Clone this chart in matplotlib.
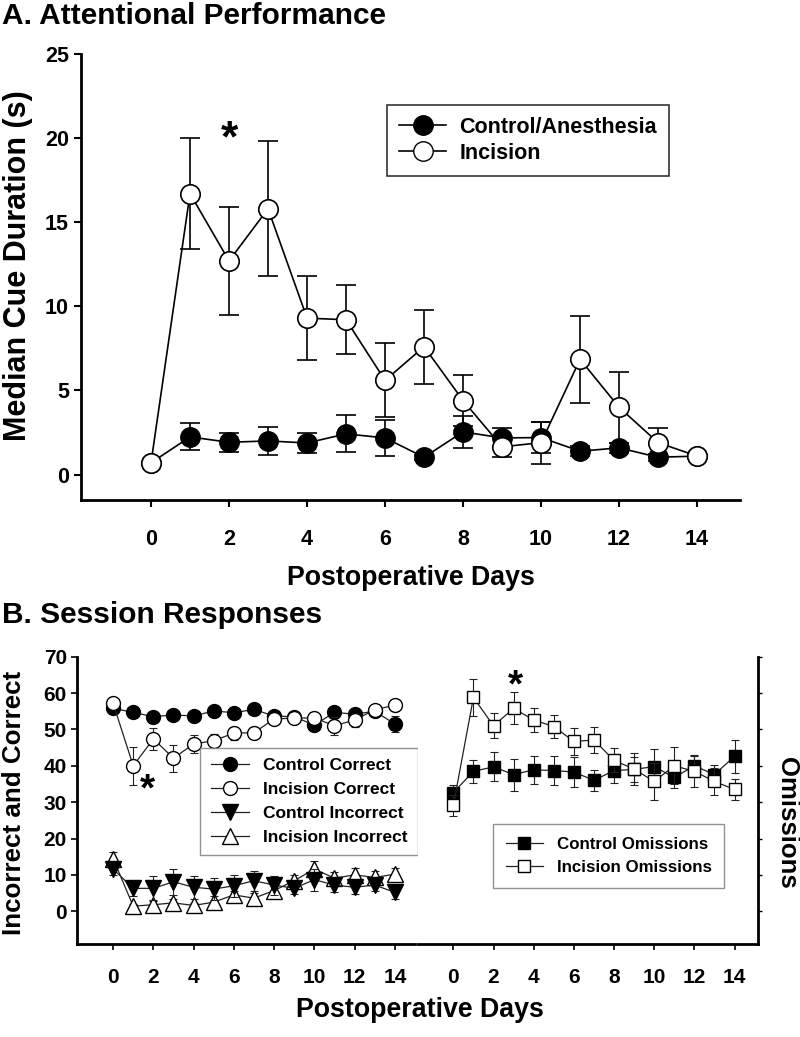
import numpy as np
import matplotlib
matplotlib.use("Agg")
import matplotlib.pyplot as plt
from matplotlib.lines import Line2D

plt.rcParams['font.family'] = ['Liberation Sans', 'DejaVu Sans']
plt.rcParams['font.weight'] = 'bold'
plt.rcParams['axes.labelweight'] = 'bold'

# ---- data, panel A (median cue duration, s) ----
days = np.arange(15)
ctrl_cue = [0.7, 2.24, 1.92, 2.0, 1.88, 2.42, 2.18, 1.03, 2.54, 2.18, 2.2, 1.39, 1.59, 1.03, 1.1]
ctrl_cue_err = [0, 0.8, 0.55, 0.85, 0.62, 1.1, 1.06, 0.15, 0.95, 0.6, 0.9, 0.3, 0.3, 0.2, 0.1]
inc_cue = [0.7, 16.7, 12.7, 15.8, 9.3, 9.2, 5.6, 7.6, 4.4, 1.65, 1.9, 6.85, 4.0, 1.9, 1.1]
inc_cue_err = [0, 3.3, 3.2, 4.0, 2.5, 2.05, 2.2, 2.2, 1.5, 0.6, 1.25, 2.6, 2.1, 0.85, 0]

# ---- data, panel B (session responses) ----
ctrl_corr = [55.8, 54.7, 53.5, 54.0, 53.7, 55.1, 54.6, 55.5, 53.7, 53.5, 51.2, 54.7, 54.2, 55.0, 51.5]
ctrl_corr_err = [0.8, 1, 1, 1, 1, 1, 1, 1, 1, 1, 1.5, 1, 1, 1, 2.1]
inc_corr = [57.2, 40.0, 47.4, 42.1, 46.0, 46.9, 49.0, 49.1, 52.9, 53.1, 53.2, 51.0, 52.6, 55.4, 56.7]
inc_corr_err = [1, 5.2, 3.0, 3.7, 2.6, 1.8, 1.8, 1.5, 1.2, 1.2, 1.5, 2.5, 1.8, 1, 1.5]
ctrl_incorr = [11.6, 6.3, 6.3, 8.1, 6.6, 6.1, 7.0, 8.4, 7.2, 6.3, 8.7, 7.2, 6.6, 7.2, 5.2]
ctrl_incorr_err = [1.5, 2.1, 3.3, 3.5, 3.2, 3.1, 3.1, 2.7, 2.6, 1.5, 3.0, 2.0, 1.8, 1.5, 1.8]
inc_incorr = [14.5, 1.4, 1.8, 2.3, 1.6, 2.5, 4.5, 3.6, 5.7, 8.4, 11.6, 9.1, 10.0, 9.3, 10.2]
inc_incorr_err = [1.7, 0.5, 1.0, 1.0, 0.7, 1.6, 1.2, 1.5, 2.1, 1.5, 2.3, 1.8, 1.9, 1.7, 1.7]
ctrl_omit = [32.6, 38.5, 39.7, 37.6, 38.9, 38.7, 38.3, 36.0, 38.7, 39.0, 39.8, 36.8, 40.0, 37.6, 42.6]
ctrl_omit_err = [2, 3.2, 4, 4.4, 3.9, 4, 4, 2.9, 3.3, 3.5, 4.9, 3, 3, 2.5, 4.5]
inc_omit = [29.1, 58.8, 51.0, 55.8, 52.6, 50.8, 46.7, 47.1, 41.5, 39.1, 35.7, 40.0, 38.5, 35.7, 33.5]
inc_omit_err = [2.9, 5.2, 3.4, 4.4, 3.3, 3.2, 3.6, 3.6, 3.3, 4.3, 5, 5.1, 4.3, 3.7, 3.0]

fig = plt.figure(figsize=(8, 10.37), dpi=100)

# ================= Panel A =================
axA = fig.add_axes([0.101, 0.518, 0.824, 0.430])
axA.errorbar(days, ctrl_cue, yerr=ctrl_cue_err, fmt='o-', color='black', mfc='black', mec='black',
             ms=14, lw=1.2, elinewidth=1.2, capsize=7, capthick=1.2, zorder=2)
axA.errorbar(days, inc_cue, yerr=inc_cue_err, fmt='o-', color='black', mfc='white', mec='black',
             ms=14, lw=1.2, mew=1.2, elinewidth=1.2, capsize=7, capthick=1.2, zorder=3)
axA.set_xlim(-1.8, 15.1)
axA.set_ylim(-1.5, 25)
axA.set_xticks(np.arange(0, 15, 2))
axA.set_yticks(np.arange(0, 26, 5))
for s in ['top', 'right']:
    axA.spines[s].set_visible(False)
for s in ['left', 'bottom']:
    axA.spines[s].set_linewidth(2)
axA.tick_params(direction='out', length=5, width=1.5, labelsize=15.5)
axA.tick_params(axis='x', pad=16)
axA.text(2, 19.9, '*', fontsize=32, ha='center', va='center')
hA = [Line2D([], [], color='black', lw=1.2, marker='o', ms=14, mfc='black', mec='black'),
      Line2D([], [], color='black', lw=1.2, marker='o', ms=14, mfc='white', mec='black')]
legA = axA.legend(hA, ['Control/Anesthesia', 'Incision'], loc='upper right',
                  bbox_to_anchor=(0.892, 0.886), borderaxespad=0, fontsize=15.5, frameon=True,
                  fancybox=False, edgecolor='black', handlelength=2.2, borderpad=0.55,
                  labelspacing=0.25, handletextpad=0.6)
legA.get_frame().set_linewidth(1.2)

fig.text(0.003, 0.985, 'A. Attentional Performance', fontsize=21.5, ha='left', va='center')
fig.text(18 / 800, 1 - 266 / 1037, 'Median Cue Duration (s)', fontsize=22, rotation=90,
         ha='center', va='center')
fig.text(411 / 800, 1 - 578 / 1037, 'Postoperative Days', fontsize=19.3, ha='center', va='center')
fig.text(0.003, 0.407, 'B. Session Responses', fontsize=21.5, ha='left', va='center')

# ================= Panel B (left) =================
axL = fig.add_axes([0.0966, 0.0897, 0.4221, 0.277])
kw = dict(lw=0.9, elinewidth=0.8, capsize=3, capthick=0.8, color='#222222', mec='black')
axL.errorbar(days, ctrl_incorr, yerr=ctrl_incorr_err, fmt='v-', mfc='black', ms=11, zorder=3, **kw)
axL.errorbar(days, inc_incorr, yerr=inc_incorr_err, fmt='^-', mfc='white', ms=11, zorder=2, **kw)
axL.errorbar(days, ctrl_corr, yerr=ctrl_corr_err, fmt='o-', mfc='black', ms=10, zorder=2, **kw)
axL.errorbar(days, inc_corr, yerr=inc_corr_err, fmt='o-', mfc='white', ms=10, zorder=3, **kw)
axL.set_xlim(-1.78, 15.0)
axL.set_ylim(-9, 70)
axL.set_xticks(np.arange(0, 15, 2))
axL.set_yticks(np.arange(0, 71, 10))
for s in ['top', 'right']:
    axL.spines[s].set_visible(False)
for s in ['left', 'bottom']:
    axL.spines[s].set_linewidth(2)
axL.tick_params(direction='out', length=4, width=1.2, labelsize=15)
axL.tick_params(axis='x', pad=13)
axL.text(1.73, 33.2, '*', fontsize=28, ha='center', va='center')
lk = dict(color='#222222', lw=0.9, mec='black')
hL = [Line2D([], [], marker='o', ms=10, mfc='black', **lk),
      Line2D([], [], marker='o', ms=10, mfc='white', **lk),
      Line2D([], [], marker='v', ms=11, mfc='black', **lk),
      Line2D([], [], marker='^', ms=11, mfc='white', **lk)]
legL = axL.legend(hL, ['Control Correct', 'Incision Correct', 'Control Incorrect', 'Incision Incorrect'],
                  loc='upper right', bbox_to_anchor=(1.009, 0.683), borderaxespad=0, fontsize=12.5,
                  fancybox=False, edgecolor='#777777', handlelength=2.2, borderpad=0.6,
                  labelspacing=0.5)
legL.get_frame().set_linewidth(1)

fig.text(14.5 / 800, 1 - 803 / 1037, 'Incorrect and Correct', fontsize=18.7, rotation=90,
         ha='center', va='center')

# ================= Panel B (right) =================
axR = fig.add_axes([0.522, 0.0897, 0.425, 0.277])
axR.errorbar(days, ctrl_omit, yerr=ctrl_omit_err, fmt='s-', mfc='black', ms=9, zorder=2, **kw)
axR.errorbar(days, inc_omit, yerr=inc_omit_err, fmt='s-', mfc='white', ms=9, zorder=3, **kw)
axR.set_xlim(-1.78, 15.15)
axR.set_ylim(-9, 70)
axR.set_xticks(np.arange(0, 15, 2))
axR.set_yticks(np.arange(0, 71, 10))
for s in ['top', 'left']:
    axR.spines[s].set_visible(False)
for s in ['right', 'bottom']:
    axR.spines[s].set_linewidth(2)
axR.yaxis.tick_right()
axR.tick_params(axis='y', labelright=False, direction='out', length=3, width=1)
axR.tick_params(axis='x', direction='out', length=4, width=1.2, labelsize=15, pad=13)
axR.text(3.07, 61.8, '*', fontsize=28, ha='center', va='center')
hR = [Line2D([], [], marker='s', ms=9, mfc='black', **lk),
      Line2D([], [], marker='s', ms=9, mfc='white', **lk)]
legR = axR.legend(hR, ['Control Omissions', 'Incision Omissions'], loc='upper left',
                  bbox_to_anchor=(0.222, 0.418), borderaxespad=0, fontsize=12.2, fancybox=False,
                  edgecolor='#777777', handlelength=2.2, borderpad=0.75, labelspacing=0.5)
legR.get_frame().set_linewidth(1)

fig.text(787 / 800, 1 - 823 / 1037, 'Omissions', fontsize=18.5, rotation=-90, ha='center', va='center')
fig.text(0.525, 0.026, 'Postoperative Days', fontsize=19.3, ha='center', va='center')

fig.savefig('out.png', dpi=100)
